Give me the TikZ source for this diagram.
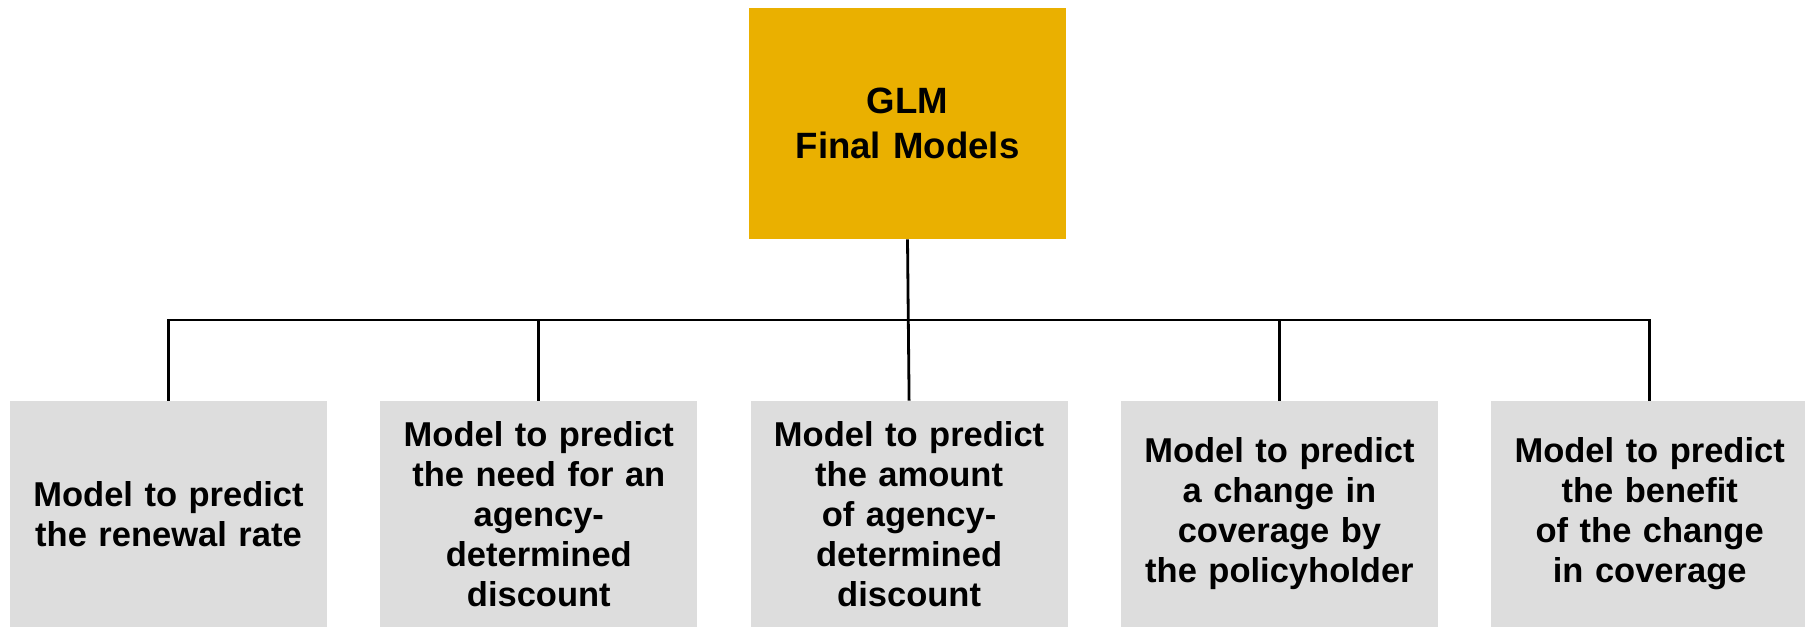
\documentclass[tikz,border=0pt]{standalone}
\usepackage{fontspec}
\setmainfont{Liberation Sans}
\usepackage{tikz}
\usetikzlibrary{positioning,calc}
\definecolor{glmgold}{RGB}{234,176,0}
\definecolor{boxgrey}{RGB}{221,221,221}

\begin{document}
\begin{tikzpicture}[
    x=0.5pt, y=-0.5pt,
    node distance=26.25pt,
    topbox/.style={rectangle, fill=glmgold, inner sep=0pt, text width=158.5pt, minimum height=115.5pt, align=center, font=\fontsize{18.3}{22.5}\selectfont\bfseries},
    modelbox/.style={rectangle, fill=boxgrey, inner sep=0pt, text width=158.5pt, minimum height=113pt, align=center, font=\fontsize{17.25}{20}\selectfont\bfseries},
    link/.style={draw=black, line width=1.4pt}
]
    \useasboundingbox (0,0) rectangle (1805,627);

    \node[topbox] (glm) at (907.5,123.5) {GLM\\Final Models};

    \node[modelbox] (renewal) at (168.5,514) {Model to predict\\the renewal rate};
    \node[modelbox, right=of renewal] (need) {Model to predict\\the need for an\\agency-\\determined\\discount};
    \node[modelbox, right=of need] (amount) {Model to predict\\the amount\\of agency-\\determined\\discount};
    \node[modelbox, right=of amount] (change) {Model to predict\\a change in\\coverage by\\the policyholder};
    \node[modelbox, right=of change] (benefit) {Model to predict\\the benefit\\of the change\\in coverage};

    \coordinate (bar) at (907.5,320);

    \draw[link] (glm.south) -- (amount.north);
    \draw[link] (renewal.north) |- (bar) -| (benefit.north);
    \draw[link] (need.north) -- (need.north |- bar);
    \draw[link] (change.north) -- (change.north |- bar);
\end{tikzpicture}
\end{document}
